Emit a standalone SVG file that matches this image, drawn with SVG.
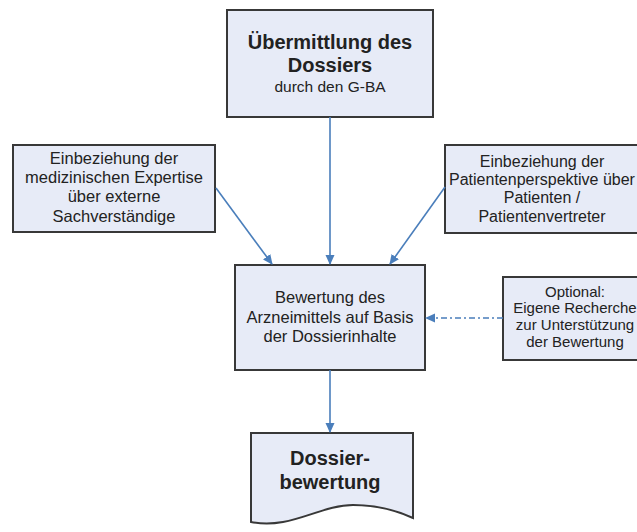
<svg xmlns="http://www.w3.org/2000/svg" width="637" height="532" viewBox="0 0 637 532">
<defs>
<marker id="ah" markerWidth="10" markerHeight="10" refX="9" refY="5" orient="auto" markerUnits="userSpaceOnUse">
<path d="M0,0.5 L10,5 L0,9.5 Z" fill="#4A7EBB"/>
</marker>
<style>
.box{fill:#E7EBF7;stroke:#383838;stroke-width:2}
.t{font-family:"Liberation Sans",Arial,sans-serif;fill:#222;text-anchor:middle}
.n{font-size:16.5px}
.p{font-size:16px}
.s{font-size:15.5px}
.o{font-size:15px}
.b{font-size:20px;font-weight:bold}
.c{stroke:#4A7EBB;stroke-width:1.6;fill:none}
</style>
</defs>
<rect width="637" height="532" fill="#fff"/>
<g id="uebermittlung">
<rect class="box" x="227" y="10" width="206" height="107"/>
<text class="t b" x="330" y="49">Übermittlung des</text>
<text class="t b" x="330" y="72">Dossiers</text>
<text class="t s" x="330" y="92">durch den G-BA</text>
</g>
<g id="expertise">
<rect class="box" x="13" y="145" width="202" height="87"/>
<text class="t n" x="114" y="164">Einbeziehung der</text>
<text class="t n" x="114" y="183">medizinischen Expertise</text>
<text class="t n" x="114" y="202">über externe</text>
<text class="t n" x="114" y="222">Sachverständige</text>
</g>
<g id="patienten">
<rect class="box" x="445" y="145" width="196" height="88"/>
<text class="t p" x="542" y="167">Einbeziehung der</text>
<text class="t p" x="542" y="185">Patientenperspektive über</text>
<text class="t p" x="542" y="203">Patienten /</text>
<text class="t p" x="542" y="222">Patientenvertreter</text>
</g>
<g id="bewertung">
<rect class="box" x="235" y="265" width="190" height="105"/>
<text class="t n" x="330" y="303">Bewertung des</text>
<text class="t n" x="330" y="323">Arzneimittels auf Basis</text>
<text class="t n" x="330" y="342">der Dossierinhalte</text>
</g>
<g id="optional">
<rect class="box" x="503" y="277" width="144" height="83"/>
<text class="t o" x="575" y="297">Optional:</text>
<text class="t o" x="575" y="313">Eigene Recherche</text>
<text class="t o" x="575" y="330">zur Unterstützung</text>
<text class="t o" x="575" y="347">der Bewertung</text>
</g>
<g id="dossierbewertung">
<path class="box" d="M251,433 L413,433 L413,518 C400,512 380,505 353,505 C320,505 290,530 251,522 Z"/>
<text class="t b" x="330" y="465">Dossier-</text>
<text class="t b" x="330" y="489">bewertung</text>
</g>
<g id="connectors">
<line class="c" x1="330" y1="117" x2="330" y2="264" marker-end="url(#ah)"/>
<line class="c" x1="216" y1="188" x2="272" y2="264" marker-end="url(#ah)"/>
<line class="c" x1="445" y1="187" x2="390" y2="264" marker-end="url(#ah)"/>
<line class="c" x1="503" y1="318" x2="426" y2="318" stroke-dasharray="6,3,2,3" marker-end="url(#ah)"/>
<line class="c" x1="330" y1="370" x2="330" y2="432" marker-end="url(#ah)"/>
</g>
</svg>
